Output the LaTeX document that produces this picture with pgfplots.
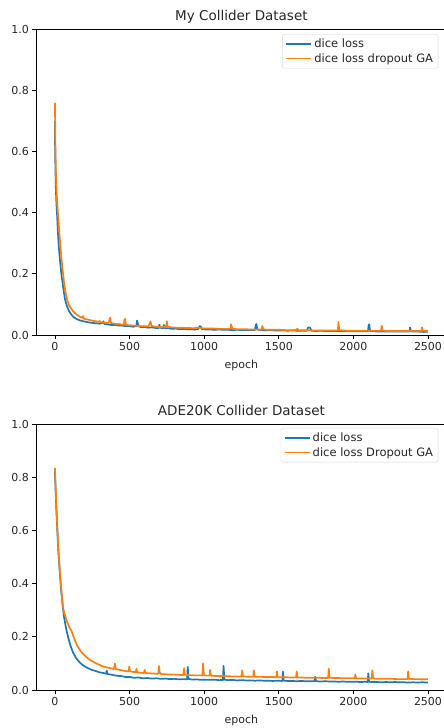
\documentclass[border=0pt]{standalone}
\usepackage{fontspec}
\setmainfont{DejaVu Sans}
\usepackage{pgfplots}
\pgfplotsset{compat=1.18}

\definecolor{mplblue}{RGB}{31,119,180}
\definecolor{mplorange}{RGB}{255,127,14}

% loss curves
\pgfplotstableread{
x y
0 0.700
1 0.620
3 0.550
6 0.480
10 0.430
15 0.387
20 0.335
25 0.295
30 0.265
38 0.223
45 0.192
52 0.168
60 0.140
67 0.118
80 0.095
95 0.078
110 0.067
122 0.060
140 0.054
160 0.049
180 0.046
200 0.044
230 0.041
260 0.039
285 0.038
300 0.037
320 0.040
325 0.045
332 0.036
350 0.035
375 0.033
400 0.033
425 0.031
450 0.031
475 0.029
500 0.029
525 0.027
545 0.030
550 0.047
555 0.040
560 0.029
575 0.026
600 0.026
625 0.024
650 0.025
675 0.023
695 0.023
700 0.034
705 0.024
725 0.022
730 0.033
736 0.022
760 0.022
785 0.020
810 0.021
835 0.019
860 0.020
885 0.019
910 0.019
935 0.018
960 0.019
970 0.029
978 0.027
985 0.019
1010 0.018
1040 0.018
1070 0.017
1100 0.018
1130 0.017
1160 0.017
1190 0.016
1220 0.017
1250 0.016
1280 0.016
1310 0.016
1340 0.016
1346 0.033
1350 0.036
1356 0.018
1380 0.016
1410 0.015
1440 0.016
1470 0.015
1500 0.015
1530 0.015
1560 0.014
1590 0.015
1620 0.014
1650 0.014
1690 0.014
1695 0.024
1705 0.025
1712 0.022
1718 0.014
1750 0.013
1780 0.014
1810 0.013
1840 0.013
1870 0.013
1900 0.013
1930 0.012
1960 0.013
1990 0.012
2020 0.012
2050 0.012
2080 0.012
2098 0.012
2102 0.032
2106 0.035
2112 0.013
2140 0.012
2170 0.011
2200 0.012
2230 0.011
2260 0.011
2290 0.011
2320 0.011
2350 0.011
2376 0.011
2380 0.025
2385 0.012
2410 0.011
2440 0.011
2470 0.010
2499 0.011
}\topblue

\pgfplotstableread{
x y
0 0.760
3 0.620
6 0.540
10 0.480
15 0.430
22 0.387
30 0.330
40 0.270
49 0.223
60 0.175
70 0.142
82 0.114
95 0.097
110 0.085
125 0.076
145 0.067
167 0.060
182 0.056
188 0.062
194 0.053
225 0.050
250 0.047
275 0.045
295 0.043
300 0.046
305 0.042
320 0.041
340 0.040
360 0.039
366 0.050
370 0.057
376 0.039
400 0.037
425 0.036
450 0.034
462 0.034
466 0.050
470 0.053
476 0.033
500 0.032
525 0.031
550 0.030
575 0.029
600 0.029
625 0.028
636 0.038
640 0.045
646 0.030
670 0.027
700 0.026
725 0.026
745 0.027
750 0.045
755 0.028
780 0.025
810 0.024
840 0.024
870 0.023
900 0.023
930 0.022
950 0.024
980 0.022
1010 0.021
1040 0.021
1070 0.021
1100 0.020
1130 0.020
1160 0.020
1176 0.020
1180 0.035
1185 0.027
1192 0.020
1220 0.019
1250 0.019
1280 0.019
1310 0.018
1340 0.018
1370 0.018
1386 0.018
1390 0.030
1396 0.019
1420 0.017
1450 0.017
1480 0.017
1510 0.017
1540 0.016
1570 0.016
1600 0.016
1620 0.017
1625 0.021
1632 0.016
1660 0.016
1690 0.016
1720 0.015
1750 0.015
1780 0.015
1810 0.015
1840 0.015
1870 0.015
1896 0.015
1900 0.043
1905 0.016
1930 0.015
1960 0.014
1990 0.014
2020 0.014
2050 0.014
2080 0.014
2110 0.014
2140 0.014
2170 0.014
2186 0.014
2190 0.030
2195 0.015
2220 0.013
2250 0.013
2280 0.013
2310 0.013
2340 0.013
2370 0.013
2400 0.013
2430 0.013
2456 0.013
2460 0.025
2466 0.014
2499 0.013
}\toporange

\pgfplotstableread{
x y
0 0.820
5 0.740
10 0.670
15 0.610
22 0.530
30 0.460
40 0.385
51 0.320
60 0.278
70 0.245
78 0.223
90 0.195
105 0.165
122 0.140
140 0.122
160 0.107
185 0.094
211 0.085
240 0.077
270 0.072
300 0.066
325 0.064
343 0.061
347 0.073
352 0.060
375 0.058
400 0.055
425 0.053
450 0.052
475 0.049
500 0.049
530 0.046
560 0.047
590 0.044
620 0.045
650 0.043
680 0.044
710 0.042
740 0.043
770 0.041
800 0.042
830 0.040
860 0.041
886 0.040
890 0.087
895 0.042
920 0.039
950 0.040
980 0.038
1010 0.039
1040 0.038
1070 0.039
1100 0.037
1126 0.038
1130 0.091
1135 0.039
1160 0.037
1190 0.038
1220 0.036
1250 0.037
1280 0.036
1310 0.036
1340 0.035
1370 0.036
1400 0.035
1430 0.035
1460 0.034
1490 0.035
1524 0.034
1528 0.069
1533 0.035
1560 0.034
1590 0.034
1620 0.033
1650 0.034
1680 0.033
1710 0.033
1740 0.033
1744 0.050
1749 0.033
1780 0.032
1810 0.033
1840 0.032
1870 0.032
1900 0.031
1930 0.032
1960 0.031
1990 0.031
2020 0.031
2050 0.030
2080 0.031
2096 0.030
2100 0.063
2105 0.031
2130 0.030
2160 0.030
2190 0.029
2220 0.030
2250 0.029
2280 0.030
2310 0.029
2340 0.029
2370 0.028
2400 0.029
2430 0.028
2460 0.029
2499 0.028
}\botblue

\pgfplotstableread{
x y
0 0.835
5 0.755
10 0.685
15 0.625
22 0.540
30 0.470
40 0.395
51 0.325
58 0.300
65 0.285
80 0.258
95 0.238
111 0.222
130 0.192
150 0.166
170 0.148
189 0.136
210 0.124
235 0.113
260 0.105
285 0.098
310 0.091
345 0.085
370 0.082
395 0.079
402 0.100
408 0.078
430 0.076
455 0.073
480 0.071
494 0.070
498 0.088
503 0.070
525 0.068
542 0.067
546 0.080
551 0.066
575 0.065
597 0.064
601 0.076
606 0.064
630 0.063
660 0.062
685 0.061
693 0.062
697 0.090
702 0.066
710 0.060
740 0.059
770 0.058
800 0.058
830 0.057
860 0.056
866 0.082
871 0.057
900 0.056
930 0.055
960 0.055
988 0.055
993 0.100
998 0.056
1020 0.054
1036 0.054
1040 0.076
1045 0.054
1070 0.053
1100 0.053
1130 0.052
1160 0.052
1190 0.051
1220 0.051
1251 0.051
1255 0.074
1260 0.051
1290 0.050
1329 0.050
1333 0.074
1338 0.050
1370 0.050
1400 0.049
1430 0.049
1460 0.049
1484 0.048
1488 0.070
1493 0.048
1520 0.048
1550 0.048
1580 0.047
1616 0.047
1620 0.070
1625 0.047
1650 0.047
1680 0.046
1710 0.046
1740 0.046
1770 0.046
1800 0.045
1831 0.045
1835 0.080
1840 0.046
1870 0.045
1900 0.045
1930 0.044
1960 0.044
1990 0.044
2009 0.044
2013 0.058
2018 0.044
2050 0.043
2080 0.043
2110 0.043
2123 0.043
2127 0.074
2132 0.048
2140 0.043
2170 0.042
2200 0.042
2230 0.042
2260 0.042
2290 0.041
2320 0.041
2350 0.041
2363 0.041
2367 0.070
2372 0.042
2400 0.041
2430 0.041
2460 0.040
2499 0.041
}\botorange

\pgfplotsset{
  lossaxis/.style={
    scale only axis,
    width=410.2pt,
    xmin=-125, xmax=2624,
    ymin=0, ymax=1,
    xtick={0,500,...,2500},
    ytick={0,0.2,0.4,0.6,0.8,1.0},
    xtick pos=bottom, ytick pos=left,
    tick align=outside,
    major tick length=4pt,
    tick style={black, line width=0.9pt},
    axis line style={black, line width=0.9pt},
    /pgf/number format/assume math mode=true,
    /pgf/number format/1000 sep={},
    yticklabel style={/pgf/number format/fixed, /pgf/number format/fixed zerofill, /pgf/number format/precision=1},
    ticklabel style={font=\fontsize{11}{13}\selectfont, text=black!85},
    xlabel={epoch},
    xlabel style={at={(axis description cs:0.5,0)}, anchor=base, yshift=-33pt, font=\fontsize{11}{13}\selectfont, text=black!85},
    title style={at={(axis description cs:0.5,1)}, anchor=base, yshift=3pt, font=\fontsize{13.5}{16}\selectfont, text=black!85},
    legend style={at={(0.980,0.985)}, anchor=north east, draw=black!15, rounded corners=2pt,
      font=\fontsize{11.5}{13.5}\selectfont, text=black!85, inner xsep=3pt, inner ysep=2.5pt, row sep=0.5pt},
    legend cell align=left,
    legend image code/.code={\draw[#1, line width=1.7pt] (0pt,0pt) -- (25pt,0pt);},
  },
  lossline/.style={line width=1.7pt, line join=round, no marks, #1},
}

\begin{document}
\begin{tikzpicture}
\path[use as bounding box] (0,0) rectangle (444pt,-728pt);
\clip (0,0) rectangle (444pt,-728pt);
\begin{axis}[lossaxis, at={(36.3pt,-335pt)}, anchor=south west, height=305.5pt,
  title={My Collider Dataset}]
  \addplot[lossline=mplblue] table[x=x, y=y] {\topblue};
  \addlegendentry{dice loss}
  \addplot[lossline=mplorange] table[x=x, y=y] {\toporange};
  \addlegendentry{dice loss dropout GA}
\end{axis}
\begin{axis}[lossaxis, at={(36.3pt,-690pt)}, anchor=south west, height=266pt,
  title={ADE20K Collider Dataset}]
  \addplot[lossline=mplblue] table[x=x, y=y] {\botblue};
  \addlegendentry{dice loss}
  \addplot[lossline=mplorange] table[x=x, y=y] {\botorange};
  \addlegendentry{dice loss Dropout GA}
\end{axis}
\end{tikzpicture}
\end{document}
